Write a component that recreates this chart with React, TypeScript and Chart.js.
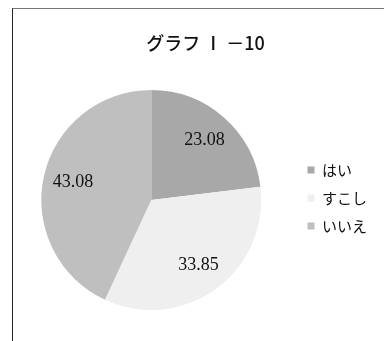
import React, { useEffect, useRef } from "react";
import { Chart, registerables } from "chart.js";

Chart.register(...registerables);

const titleText = "グラフ Ⅰ －10";
const categories = ["はい", "すこし", "いいえ"];
const values = [23.08, 33.85, 43.08];
const valueLabels = ["23.08", "33.85", "43.08"];
const sliceColors = ["#a8a8a8", "#efefef", "#bfbfbf"];

const labelPlugin = {
  id: "sliceLabels",
  afterDatasetsDraw(chart: any) {
    const meta = chart.getDatasetMeta(0);
    const ctx = chart.ctx;
    ctx.save();
    ctx.font = "18px 'Liberation Serif', serif";
    ctx.fillStyle = "#111";
    ctx.textAlign = "center";
    ctx.textBaseline = "middle";
    meta.data.forEach((arc: any, i: number) => {
      const p = arc.getProps(["x", "y", "startAngle", "endAngle", "outerRadius"], true);
      const mid = (p.startAngle + p.endAngle) / 2;
      const r = p.outerRadius * 0.73;
      ctx.fillText(valueLabels[i], p.x + Math.cos(mid) * r, p.y + Math.sin(mid) * r);
    });
    ctx.restore();
  },
};

const blockShift = {
  id: "blockShift",
  afterLayout(chart: any) {
    const tb = chart.titleBlock;
    if (tb) {
      tb.left += 13;
      tb.right += 13;
    }
    const lg = chart.legend;
    if (lg) {
      lg.top += 32;
      lg.bottom += 32;
    }
  },
};

export default function App() {
  const ref = useRef<HTMLCanvasElement>(null);
  useEffect(() => {
    if (!ref.current) return;
    const chart = new Chart(ref.current, {
      type: "pie",
      data: {
        labels: categories,
        datasets: [
          {
            data: values,
            backgroundColor: sliceColors,
            borderWidth: 0,
          },
        ],
      },
      options: {
        responsive: false,
        animation: false,
        layout: { padding: { left: 8, right: 7, top: 22, bottom: 31 } },
        plugins: {
          tooltip: { enabled: false },
          title: {
            display: true,
            text: titleText,
            color: "#111",
            font: { family: "'Noto Sans CJK JP', sans-serif", size: 18, weight: "500" },
            padding: { top: 10, bottom: 36.5 },
          },
          legend: {
            position: "right",
            align: "center",
            labels: {
              boxWidth: 7,
              boxHeight: 7,
              padding: 13,
              color: "#111",
              font: { family: "'Noto Sans CJK JP', sans-serif", size: 15 },
            },
          },
        },
      },
      plugins: [labelPlugin, blockShift],
    });
    return () => chart.destroy();
  }, []);
  return (
    <div style={{ position: "fixed", left: 0, top: 0, width: 384, height: 341, overflow: "hidden", background: "#fff" }}>
      <div
        style={{
          position: "absolute",
          left: 12,
          top: 8,
          width: 400,
          height: 400,
          borderLeft: "1.5px solid #222",
          borderTop: "1px solid #777",
        }}
      />
      <canvas ref={ref} width={384} height={341} style={{ position: "absolute", left: 0, top: 0 }} />
    </div>
  );
}
